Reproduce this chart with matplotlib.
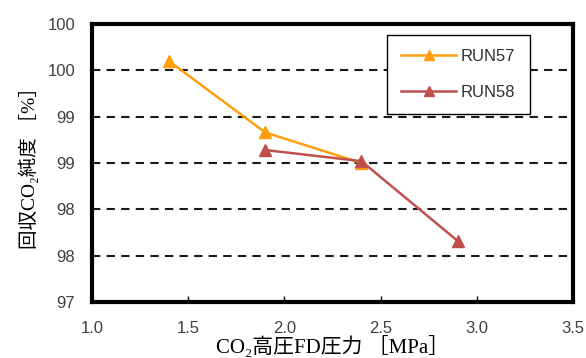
import matplotlib
matplotlib.use('Agg')
import matplotlib.pyplot as plt
import numpy as np
from matplotlib.ticker import FuncFormatter

run57_x = [1.4, 1.9, 2.4]
run57_y = [99.6, 98.83, 98.5]
run58_x = [1.9, 2.4, 2.9]
run58_y = [98.64, 98.52, 97.66]
x_ticks = [1.0, 1.5, 2.0, 2.5, 3.0, 3.5]
y_ticks = [97.0, 97.5, 98.0, 98.5, 99.0, 99.5, 100.0]

plt.rcParams['font.family'] = ['Liberation Sans', 'Noto Sans CJK JP']

fig = plt.figure(figsize=(5.86, 3.58), dpi=100)
ax = fig.add_axes([92 / 586, 1 - 302 / 358, 481 / 586, 278 / 358])

for y in y_ticks[1:-1]:
    ax.axhline(y, color='#1a1a1a', lw=1.5, ls=(0, (4, 3)), zorder=1)

ax.plot(run57_x, run57_y, color='#FF9E0F', lw=1.8, marker='^', ms=9,
        label='RUN57', zorder=3)
ax.plot(run58_x, run58_y, color='#C0504D', lw=1.8, marker='^', ms=9,
        label='RUN58', zorder=4)

ax.set_xlim(1.0, 3.5)
ax.set_ylim(97, 100)
ax.set_xticks(x_ticks)
ax.set_yticks(y_ticks)
ax.xaxis.set_major_formatter(FuncFormatter(lambda v, p: f'{v:.1f}'))
ax.yaxis.set_major_formatter(FuncFormatter(lambda v, p: str(int(np.floor(v + 0.5)))))
ax.tick_params(axis='x', direction='in', length=4, width=1, pad=14,
               labelsize=12, labelcolor='#404040')
ax.tick_params(axis='y', length=0, pad=12, labelsize=12, labelcolor='#404040')
for s in ax.spines.values():
    s.set_linewidth(3)

lab_font = ['Liberation Serif', 'Noto Sans CJK JP']
ax.set_xlabel('CO₂高圧FD圧力 ［MPa］', family=lab_font, fontsize=15, labelpad=0)
ax.set_ylabel('回収CO₂純度 ［%］', family=lab_font, fontsize=14, labelpad=6)

leg = ax.legend(loc='upper left', bbox_to_anchor=(0.613, 0.96), fancybox=False,
                edgecolor='black', framealpha=1, fontsize=12, handlelength=3.3,
                handletextpad=0.3, labelspacing=1.25, borderpad=0.85,
                borderaxespad=0, markerscale=0.8)
leg.get_frame().set_linewidth(1)
for t in leg.get_texts():
    t.set_color('#303030')

fig.savefig('out.png', dpi=100)
